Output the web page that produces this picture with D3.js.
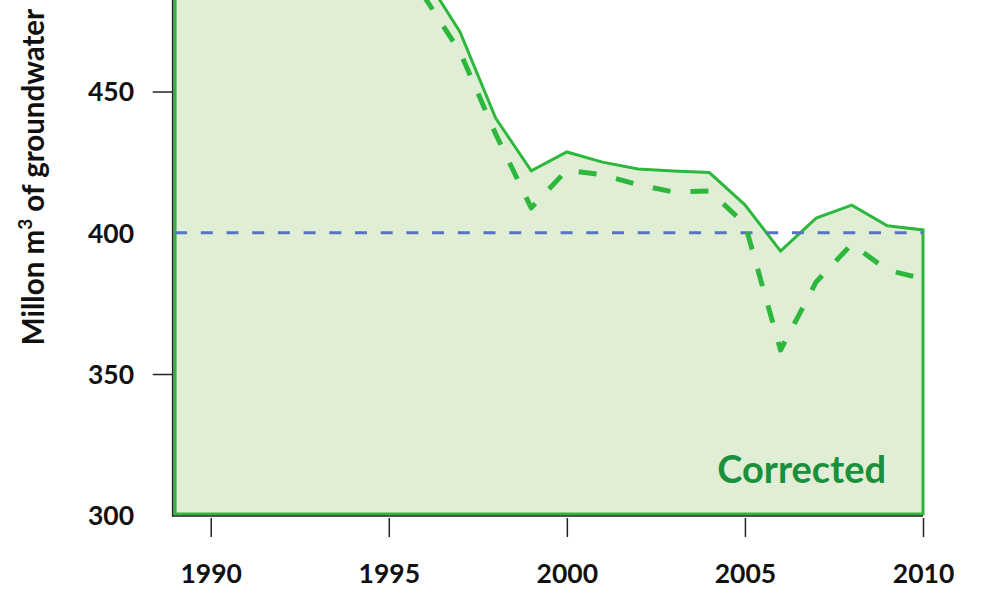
<!DOCTYPE html>
<html>
<head>
<meta charset="utf-8">
<script src="https://cdn.jsdelivr.net/npm/d3@7"></script>
<style>
  html, body { margin: 0; padding: 0; background: #ffffff; }
  svg { display: block; }
  text { font-family: Lato, "Open Sans", sans-serif; }
</style>
</head>
<body>
<svg id="chart" width="984" height="606"></svg>
<script>
// ---- data ----
const years = [1989, 1990, 1991, 1992, 1993, 1994, 1995, 1996, 1997, 1998, 1999,
               2000, 2001, 2002, 2003, 2004, 2005, 2006, 2007, 2008, 2009, 2010];
// solid line ("Corrected"); values before 1996 lie above the visible top of the chart
const corrected = [505, 508, 510, 507, 503, 500, 497, 491, 471.1, 440.6, 421.9,
                   428.6, 425.0, 422.6, 421.9, 421.3, 409.9, 393.5, 405.2, 409.8, 402.5, 401.0];
// dashed line (uncorrected); values before 1996 lie above the visible top
const uncorrected = [500, 503, 505, 502, 498, 495, 491, 483.5, 464.0, 435.0, 408.8,
                     422.2, 420.5, 417.0, 414.4, 414.8, 403.1, 358.5, 382.6, 396.0, 386.8, 383.7];
const threshold = 400;
const yTickValues = [300, 350, 400, 450];
const xTickValues = [1990, 1995, 2000, 2005, 2010];
const yTitle = "Millon m";
const yTitleSup = "3";
const yTitleEnd = " of groundwater";
const areaLabel = "Corrected";

// ---- scales ----
const svg = d3.select("#chart");
const x = d3.scaleLinear().domain([1989, 2010]).range([175.1, 923]);
const y = d3.scaleLinear().domain([300, 482.4]).range([515.25, 0]);

const green = "#2db83d";
const fill = "#e1eed6";

// ---- area under corrected ----
const pts = years.map((yr, i) => ({ yr, c: corrected[i], u: uncorrected[i] }));
const area = d3.area()
  .x(d => x(d.yr))
  .y0(y(300) - 1.3)
  .y1(d => y(d.c));
svg.append("path")
  .datum(pts)
  .attr("d", area)
  .attr("fill", fill)
  .attr("stroke", green)
  .attr("stroke-width", 3)
  .attr("stroke-linejoin", "miter");

// ---- threshold line ----
svg.append("line")
  .attr("x1", x(1989)).attr("x2", x(2010))
  .attr("y1", y(threshold)).attr("y2", y(threshold))
  .attr("stroke", "#5674c2")
  .attr("stroke-width", 3)
  .attr("stroke-dasharray", "12,13.7");

// ---- dashed series ----
const line = d3.line().x(d => x(d.yr)).y(d => y(d.u));
svg.append("path")
  .datum(pts.filter(d => d.yr >= 1996))
  .attr("d", line)
  .attr("fill", "none")
  .attr("stroke", green)
  .attr("stroke-width", 5)
  .attr("stroke-dasharray", "18,20")
  .attr("stroke-dashoffset", 3)
  .attr("stroke-linejoin", "round");

// ---- axes ----
const axisColor = "#222";
// left axis
const yAxis = d3.axisLeft(y).tickValues(yTickValues).tickSize(20).tickPadding(18.7).tickFormat(d3.format("d"));
const gy = svg.append("g").attr("transform", "translate(172.7,0)").call(yAxis);
gy.select(".domain").remove();
gy.selectAll(".tick line")
  .attr("stroke", axisColor).attr("stroke-width", 1.5)
  .attr("display", d => (d === 350 || d === 450) ? null : "none");
gy.selectAll(".tick text")
  .attr("font-size", 26.5).attr("font-weight", "bold").attr("fill", "#111")
  .attr("dy", "0.35em");
svg.append("line")
  .attr("x1", 172.7).attr("x2", 172.7).attr("y1", 0).attr("y2", 516.5)
  .attr("stroke", axisColor).attr("stroke-width", 1.6);

// bottom axis
const xAxis = d3.axisBottom(x).tickValues(xTickValues).tickSize(19).tickPadding(27).tickFormat(d3.format("d"));
const gx = svg.append("g").attr("transform", "translate(0,518)").call(xAxis);
gx.select(".domain").remove();
gx.selectAll(".tick line").attr("stroke", axisColor).attr("stroke-width", 1.5);
gx.selectAll(".tick text")
  .attr("font-size", 26.5).attr("font-weight", "bold").attr("fill", "#111");
svg.append("line")
  .attr("x1", 172).attr("x2", x(2010)).attr("y1", 516).attr("y2", 516)
  .attr("stroke", axisColor).attr("stroke-width", 1.6);

// ---- y title ----
const t = svg.append("text")
  .attr("transform", "translate(44,177) rotate(-90)")
  .attr("text-anchor", "middle")
  .attr("font-size", 29.5)
  .attr("font-weight", "bold")
  .attr("fill", "#111");
t.append("tspan").text(yTitle);
t.append("tspan").attr("font-size", 19).attr("dy", -12).text(yTitleSup);
t.append("tspan").attr("dy", 12).text(yTitleEnd);

// ---- area label ----
svg.append("text")
  .attr("x", 886).attr("y", 483.3)
  .attr("text-anchor", "end")
  .attr("font-size", 38)
  .attr("font-weight", "bold")
  .attr("fill", "#1a8f3c")
  .text(areaLabel);
</script>
</body>
</html>
